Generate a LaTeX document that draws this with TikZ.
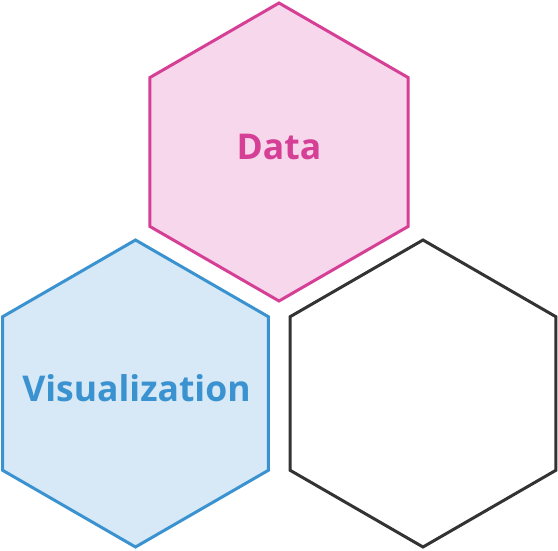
\documentclass[tikz,border=0pt]{standalone}
\usepackage{fontspec}
\setmainfont{Open Sans}
\usetikzlibrary{shapes.geometric}
\definecolor{datapink}{HTML}{D63F96}
\definecolor{datafill}{HTML}{F7D7EB}
\definecolor{visblue}{HTML}{3A93D0}
\definecolor{visfill}{HTML}{D7E8F6}
\definecolor{hexgray}{HTML}{333333}
\begin{document}
\begin{tikzpicture}[x=1pt, y=-1pt,
  hexa/.style={regular polygon, regular polygon sides=6, shape border rotate=30,
    line width=3pt, inner sep=0pt},
  hexlabel/.style={anchor=base, inner sep=0pt, font=\fontsize{35.5}{40}\selectfont\bfseries}]
  \useasboundingbox (0, 0) rectangle (558, 550);
  \node[hexa, draw=datapink, fill=datafill, minimum size=298pt] (data) at (279, 152) {};
  \node[hexa, draw=visblue, fill=visfill, minimum size=307pt] (vis) at (135.5, 393.5) {};
  \node[hexa, draw=hexgray, minimum size=307pt] (blank) at (423, 393.5) {};
  \node[hexlabel, text=datapink] (datatext) at (279, 159) {Data};
  \node[hexlabel, text=visblue] (vistext) at (136.5, 401) {Visualization};
\end{tikzpicture}
\end{document}
